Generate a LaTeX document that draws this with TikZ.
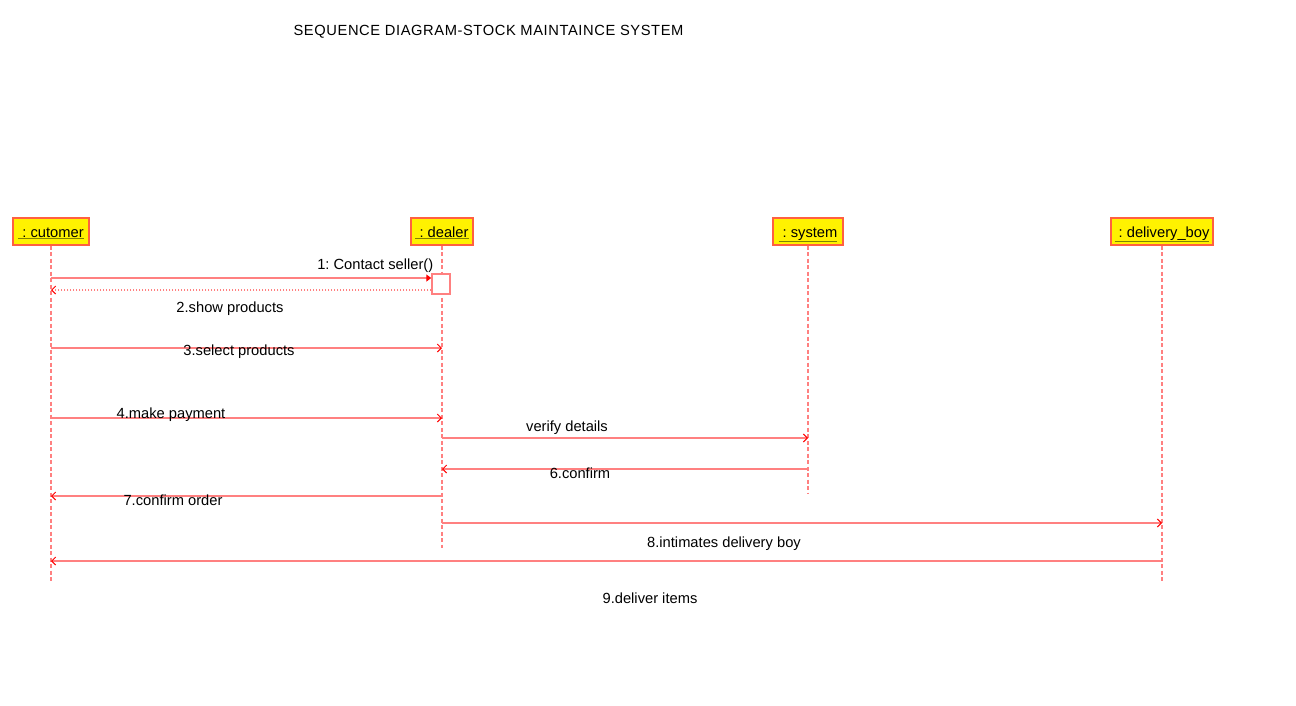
\documentclass[tikz,border=0pt]{standalone}
\usepackage{fontspec}
\setmainfont{Liberation Sans}
\usetikzlibrary{arrows.meta}
\frenchspacing
\definecolor{lred}{RGB}{255,128,128}
\definecolor{bred}{RGB}{255,96,64}
\definecolor{ulc}{RGB}{128,128,0}
\newcommand{\ulname}[1]{\textcolor{ulc}{\underline{\textcolor{black}{#1}}}}
\begin{document}
\begin{tikzpicture}[x=1pt,y=-1pt,
  every node/.style={font=\fontsize{14.7}{17}\selectfont},
  head/.style={draw=bred,line width=1.3pt,fill=yellow,minimum height=27pt,inner sep=0pt,text depth=2.5pt,text height=13.5pt},
  life/.style={draw=lred,line width=1.5pt,dash pattern=on 4pt off 2.5pt},
  msg/.style={draw=lred,line width=1.5pt,-{Straight Barb[length=4pt,width=8pt,color=red,line width=1pt]}},
  ret/.style={msg,dash pattern=on 1.2pt off 1.8pt},
  call/.style={draw=lred,line width=1.5pt,-{Triangle[length=5pt,width=7pt,color=red]}},
  act/.style={draw=lred,line width=1.5pt,fill=white,minimum width=18pt,minimum height=20pt,inner sep=0pt},
  lbl/.style={inner sep=0pt,text=black}]
\useasboundingbox (0,0) rectangle (1296,705);
\node[lbl,font=\fontsize{14.7}{17}\selectfont\addfontfeature{LetterSpace=4}] (title) at (488.5,31.5) {SEQUENCE DIAGRAM-STOCK MAINTAINCE SYSTEM};
% heads
\node[head,minimum width=76pt] (cu) at (51,231.5) {\ulname{\ :\ cutomer}};
\node[head,minimum width=62pt] (de) at (442,231.5) {\ulname{\ :\ dealer}};
\node[head,minimum width=70pt] (sy) at (808,231.5) {\ulname{\ :\ system}};
\node[head,minimum width=102pt] (db) at (1162,231.5) {\ulname{\ :\ delivery\_boy}};
% lifeline ends
\coordinate (cuE) at (51,583);
\coordinate (deE) at (442,548);
\coordinate (syE) at (808,493);
\coordinate (dbE) at (1162,583);
\draw[life] (cu.south) -- (cuE);
\draw[life] (de.south) -- (deE);
\draw[life] (sy.south) -- (syE);
\draw[life] (db.south) -- (dbE);
% activation
\node[act] (ac) at (441,284) {};
% message endpoints
\coordinate (m1a) at (51,278);
\coordinate (m2b) at (51,290);
\coordinate (m3a) at (51,348);  \coordinate (m3b) at (442,348);
\coordinate (m4a) at (51,418);  \coordinate (m4b) at (442,418);
\coordinate (m5a) at (442,438); \coordinate (m5b) at (808,438);
\coordinate (m6a) at (808,469); \coordinate (m6b) at (442,469);
\coordinate (m7a) at (442,496); \coordinate (m7b) at (51,496);
\coordinate (m8a) at (442,523); \coordinate (m8b) at (1162,523);
\coordinate (m9a) at (1162,561);\coordinate (m9b) at (51,561);
\draw[call] (m1a) -- (m1a -| ac.west);
\draw[ret] (m2b -| ac.west) -- (m2b);
\draw[msg] (m3a) -- (m3b);
\draw[msg] (m4a) -- (m4b);
\draw[msg] (m5a) -- (m5b);
\draw[msg] (m6a) -- (m6b);
\draw[msg] (m7a) -- (m7b);
\draw[msg] (m8a) -- (m8b);
\draw[msg] (m9a) -- (m9b);
% labels
\node[lbl,anchor=east] (l1) at (433.5,265.5) {1: Contact seller()};
\node[lbl] (l2) at (230,308.5) {2.show products};
\node[lbl] (l3) at (239,351.5) {3.select products};
\node[lbl] (l4) at (171,414.5) {4.make payment};
\node[lbl] (l5) at (567,427.5) {verify details};
\node[lbl] (l6) at (580,473.5) {6.confirm};
\node[lbl] (l7) at (173,500.5) {7.confirm order};
\node[lbl] (l8) at (724,543.5) {8.intimates delivery boy};
\node[lbl] (l9) at (650,598.5) {9.deliver items};
\end{tikzpicture}
\end{document}
